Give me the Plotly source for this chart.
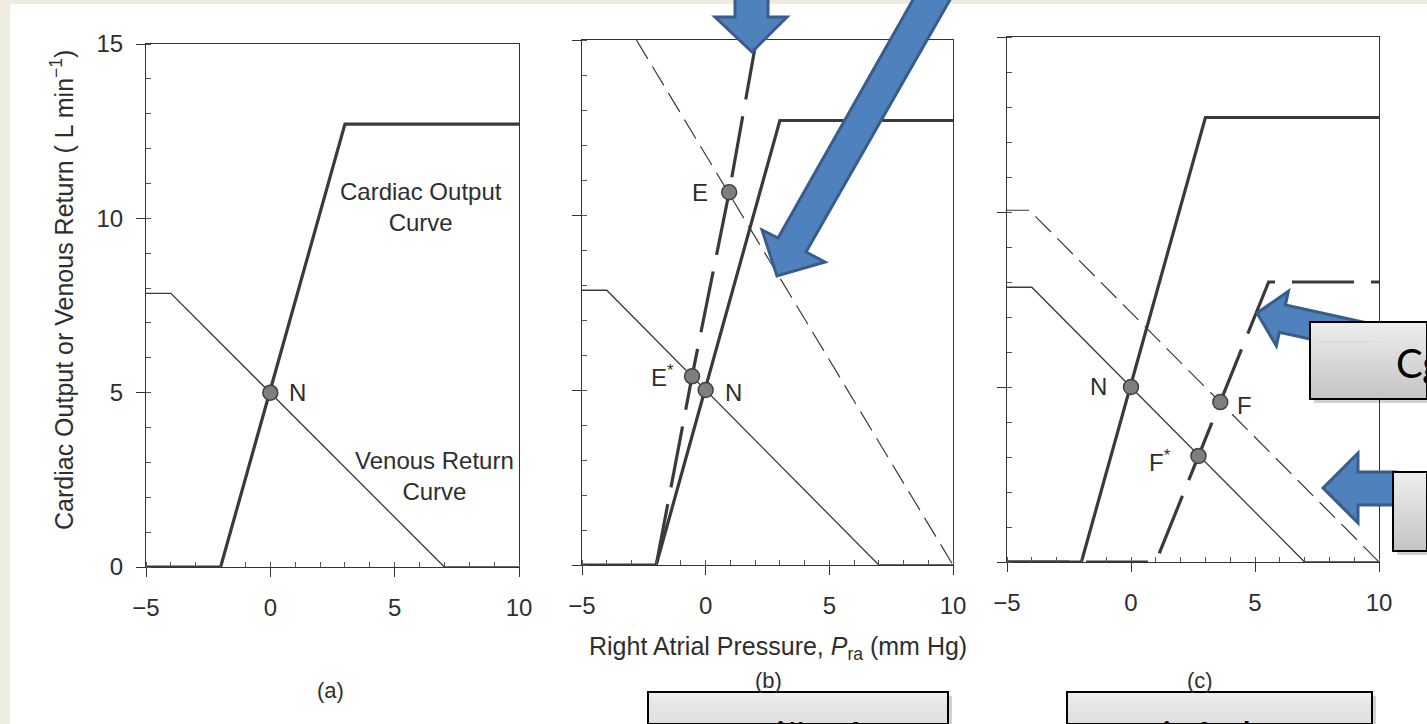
import plotly.graph_objects as go

# ---------------- data: right atrial pressure (mm Hg) vs flow (L/min) ----------------
x_tick_vals = [-5, 0, 5, 10]
x_tick_text = ["\u22125", "0", "5", "10"]
y_tick_vals = [0, 5, 10, 15]
y_tick_text = ["0", "5", "10", "15"]

# normal cardiac output and venous return curves
co_normal_x = [-5, -2, 3, 10]
co_normal_y = [0, 0, 12.7, 12.7]
vr_normal_x = [-5, -4, 7, 10]
vr_normal_y = [7.85, 7.85, 0, 0]

# (b) exercise
vr_exercise_x = [-2.8, 10]
vr_exercise_y = [15, 0]
co_exercise_x = [-2, -0.55, 0.95, 2.05]
co_exercise_y = [0, 5.39, 10.65, 15]

# (c) heart failure
vr_failure_x = [-5, -4.1, 10]
vr_failure_y = [10.05, 10.05, 0]
co_failure_x = [-5, 1, 5.55, 10]
co_failure_y = [0, 0, 8, 8]

# operating points
pts_a_name = ["N"]
pts_a_x = [0]
pts_a_y = [5]
pts_b_name = ["E", "E*", "N"]
pts_b_x = [0.95, -0.55, 0]
pts_b_y = [10.65, 5.39, 5]
pts_c_name = ["N", "F", "F*"]
pts_c_x = [0, 3.6, 2.72]
pts_c_y = [5, 4.57, 3.03]

panel_tags = ["(a)", "(b)", "(c)"]
box_texts = ["cvičení", "infarkt", "Cg", ""]

# ---------------- page geometry ----------------
W, H = 1427, 724


def fx(x):
    return min(x, W) / W


def fy(y):
    return 1 - min(y, H) / H


def tx_(x):
    return x / W


def ty_(y):
    return 1 - y / H


def path(points):
    return "M " + " L ".join(f"{fx(x):.5f},{fy(y):.5f}" for x, y in points) + " Z"


# plot boxes in page pixels: left, right, top, bottom
frames = [(146, 519, 44, 567), (582, 953, 40, 565), (1007, 1379, 37, 562)]

INK = "#3a3a3a"
FONT = "Liberation Sans, Arial, sans-serif"
SLIDE_FONT = "Lato, Open Sans, sans-serif"
TXT = "#2e2e2e"

thick = dict(color=INK, width=3.2)
thin = dict(color=INK, width=1.3)
thin_dash = dict(color=INK, width=1.2, dash="22px,9px")
thick_dash = dict(color=INK, width=3.2, dash="62px,17px")

fig = go.Figure()


def add_line(xs, ys, line, k):
    sfx = "" if k == 1 else str(k)
    fig.add_trace(go.Scatter(x=xs, y=ys, mode="lines", line=line,
                             xaxis="x" + sfx, yaxis="y" + sfx,
                             hoverinfo="skip", showlegend=False))


def add_points(xs, ys, k):
    sfx = "" if k == 1 else str(k)
    fig.add_trace(go.Scatter(x=xs, y=ys, mode="markers",
                             marker=dict(size=15, color="#7e7e7e",
                                         line=dict(color="#404040", width=1.5)),
                             xaxis="x" + sfx, yaxis="y" + sfx, cliponaxis=False,
                             hoverinfo="skip", showlegend=False))


# panel (a)
add_line(vr_normal_x, vr_normal_y, thin, 1)
add_line(co_normal_x, co_normal_y, thick, 1)
add_points(pts_a_x, pts_a_y, 1)

# panel (b)
add_line(vr_normal_x, vr_normal_y, thin, 2)
add_line(vr_exercise_x, vr_exercise_y, thin_dash, 2)
add_line(co_normal_x, co_normal_y, thick, 2)
add_line(co_exercise_x, co_exercise_y, thick_dash, 2)
add_points(pts_b_x, pts_b_y, 2)

# panel (c)
add_line(vr_normal_x, vr_normal_y, thin, 3)
add_line(vr_failure_x, vr_failure_y, thin_dash, 3)
add_line(co_failure_x, co_failure_y, thick_dash, 3)
add_line(co_normal_x, co_normal_y, thick, 3)
add_points(pts_c_x, pts_c_y, 3)

# ---------------- axes ----------------
layout_axes = {}
for k, (l, r, t, b) in enumerate(frames, start=1):
    sfx = "" if k == 1 else str(k)
    common = dict(showgrid=False, zeroline=False, showline=True, linecolor="#333",
                  linewidth=1, mirror=True, ticks="outside", ticklen=9, tickwidth=1,
                  tickcolor="#333", tickfont=dict(family=FONT, size=24, color=TXT),
                  minor=dict(ticks="inside", ticklen=5, dtick=1, tickwidth=1,
                             tickcolor="#555", showgrid=False),
                  automargin=False, fixedrange=True)
    layout_axes["xaxis" + sfx] = dict(common, domain=[fx(l), fx(r)], range=[-5, 10],
                                      tickvals=x_tick_vals, ticktext=x_tick_text,
                                      ticklabelstandoff=10,
                                      anchor="y" + sfx)
    layout_axes["yaxis" + sfx] = dict(common, domain=[fy(b), fy(t)], range=[0, 15],
                                      tickvals=y_tick_vals, ticktext=y_tick_text,
                                      showticklabels=(k == 1), ticklabelstandoff=8,
                                      anchor="x" + sfx)

# ---------------- text ----------------
ann = []


def label(text, x, y, k, dx=0, dy=0, size=24, xanchor="center"):
    sfx = "" if k == 1 else str(k)
    ann.append(dict(text=text, x=x, y=y, xref="x" + sfx, yref="y" + sfx,
                    xshift=dx, yshift=dy, showarrow=False, xanchor=xanchor,
                    font=dict(family=FONT, size=size, color=TXT)))


point_label_shift = {
    (1, "N"): (27, 0), (2, "E"): (-29, 0), (2, "E*"): (-30, 0), (2, "N"): (28, -2),
    (3, "N"): (-33, 0), (3, "F"): (24, -3), (3, "F*"): (-38, -5),
}
for k, (names, xs, ys) in enumerate([(pts_a_name, pts_a_x, pts_a_y),
                                       (pts_b_name, pts_b_x, pts_b_y),
                                       (pts_c_name, pts_c_x, pts_c_y)], start=1):
    for n, x, y in zip(names, xs, ys):
        dx, dy = point_label_shift[(k, n)]
        txt = n.replace("*", "<sup>*</sup>")
        label(txt, x, y, k, dx, dy)

label("Cardiac Output<br>Curve", 6.06, 10.32, 1)
label("Venous Return<br>Curve", 6.62, 2.61, 1)

ann.append(dict(text="Cardiac Output or Venous Return ( L min<sup>\u22121</sup>)",
                x=tx_(62), y=ty_(290), xref="paper", yref="paper", textangle=-90,
                showarrow=False, xanchor="center", yanchor="middle",
                font=dict(family=FONT, size=25, color=TXT)))
ann.append(dict(text="Right Atrial Pressure, <i>P</i><sub>ra</sub> (mm Hg)",
                x=tx_(778), y=ty_(648), xref="paper", yref="paper", showarrow=False,
                xanchor="center", yanchor="middle",
                font=dict(family=FONT, size=25, color=TXT)))
for tag, (cx, cy) in zip(panel_tags, [(330, 690), (769, 680), (1200, 680)]):
    ann.append(dict(text=tag, x=tx_(cx), y=ty_(cy), xref="paper", yref="paper",
                    showarrow=False, xanchor="center", yanchor="middle",
                    font=dict(family=FONT, size=22, color=TXT)))

# ---------------- slide decorations: background, arrows, callout boxes ----------------
shapes = [dict(type="rect", xref="paper", yref="paper", x0=fx(10), x1=fx(W),
               y0=fy(4), y1=fy(H), fillcolor="white", line=dict(width=0),
               layer="below")]

ARROW_FILL = "#4F81BD"
ARROW_EDGE = "#385D8A"


def arrow(points):
    shapes.append(dict(type="path", xref="paper", yref="paper", path=path(points),
                       fillcolor=ARROW_FILL, line=dict(color=ARROW_EDGE, width=3),
                       layer="above"))


def arrow_from_tip(tip, u, head_len, head_half, shaft_half, length):
    ux, uy = u
    nrm = (ux ** 2 + uy ** 2) ** 0.5
    ux, uy = ux / nrm, uy / nrm
    nx, ny = -uy, ux
    tx, ty = tip
    cx, cy = tx + head_len * ux, ty + head_len * uy
    ex, ey = tx + length * ux, ty + length * uy
    return [(tx, ty),
            (cx + head_half * nx, cy + head_half * ny),
            (cx + shaft_half * nx, cy + shaft_half * ny),
            (ex + shaft_half * nx, ey + shaft_half * ny),
            (ex - shaft_half * nx, ey - shaft_half * ny),
            (cx - shaft_half * nx, cy - shaft_half * ny),
            (cx - head_half * nx, cy - head_half * ny)]


# down arrow onto the exercise cardiac output curve
arrow([(735, -2), (768, -2), (768, 17), (787, 17), (752, 52), (715, 17), (735, 17)])
# diagonal arrow onto the exercise venous return curve
arrow([(914, -2), (778, 238), (762, 230), (777, 276), (825, 262), (806, 252), (951, -2)])
# arrow onto the failing heart curve (tail hidden under the callout)
arrow(arrow_from_tip((1257, 313), (0.977, 0.216), 26, 28, 14, 120))
# arrow onto the shifted venous return curve
arrow([(1323, 488), (1358, 453), (1358, 472), (1396, 472), (1396, 505), (1358, 505),
       (1358, 523)])


def callout(x0, y0, x1, y1):
    shapes.append(dict(type="rect", xref="paper", yref="paper", x0=fx(x0 + 4), x1=fx(x1 + 4),
                       y0=fy(y0 + 4), y1=fy(y1 + 4), fillcolor="rgba(0,0,0,0.18)",
                       line=dict(width=0), layer="above"))
    n = 16
    top, bot = (238, 238, 238), (196, 196, 196)
    for i in range(n):
        t = (i + 0.5) / n
        c = tuple(round(a + (b - a) * t) for a, b in zip(top, bot))
        ya = y0 + (y1 - y0) * i / n
        yb = y0 + (y1 - y0) * (i + 1) / n
        shapes.append(dict(type="rect", xref="paper", yref="paper", x0=fx(x0), x1=fx(x1),
                           y0=fy(ya), y1=fy(yb + 0.6), fillcolor=f"rgb{c}",
                           line=dict(width=0), layer="above"))
    shapes.append(dict(type="rect", xref="paper", yref="paper", x0=fx(x0), x1=fx(x1),
                       y0=fy(y0), y1=fy(y1), fillcolor="rgba(0,0,0,0)",
                       line=dict(color="black", width=2), layer="above"))


boxes = [(648, 692, 948, 772), (1067, 692, 1372, 772), (1310, 322, 1520, 399),
         (1393, 472, 1520, 551)]
text_pos = [(798, 736, "center"), (1219, 736, "center"), (1394, 363, "left"),
            (1450, 512, "left")]
for (x0, y0, x1, y1), (px_, py_, anc), txt in zip(boxes, text_pos, box_texts):
    callout(x0, y0, x1, y1)
    if txt:
        ann.append(dict(text=txt, x=tx_(px_), y=ty_(py_), xref="paper", yref="paper",
                        showarrow=False, xanchor=anc, yanchor="middle",
                        font=dict(family=SLIDE_FONT, size=40, color="black")))

fig.update_layout(
    width=W, height=H, margin=dict(l=0, r=0, t=0, b=0, pad=0, autoexpand=False),
    paper_bgcolor="#EEECE1", plot_bgcolor="white",
    showlegend=False, hovermode=False,
    shapes=shapes, annotations=ann, **layout_axes,
)

page_css = ("document.documentElement.style.overflow='hidden';"
            "document.body.style.margin='0';"
            "document.body.style.overflow='hidden';"
            "document.querySelectorAll('.plotly-graph-div, .svg-container')"
            ".forEach(function(e){e.style.overflow='hidden';});")

fig.write_html("out.html", config=dict(displayModeBar=False), post_script=page_css)
